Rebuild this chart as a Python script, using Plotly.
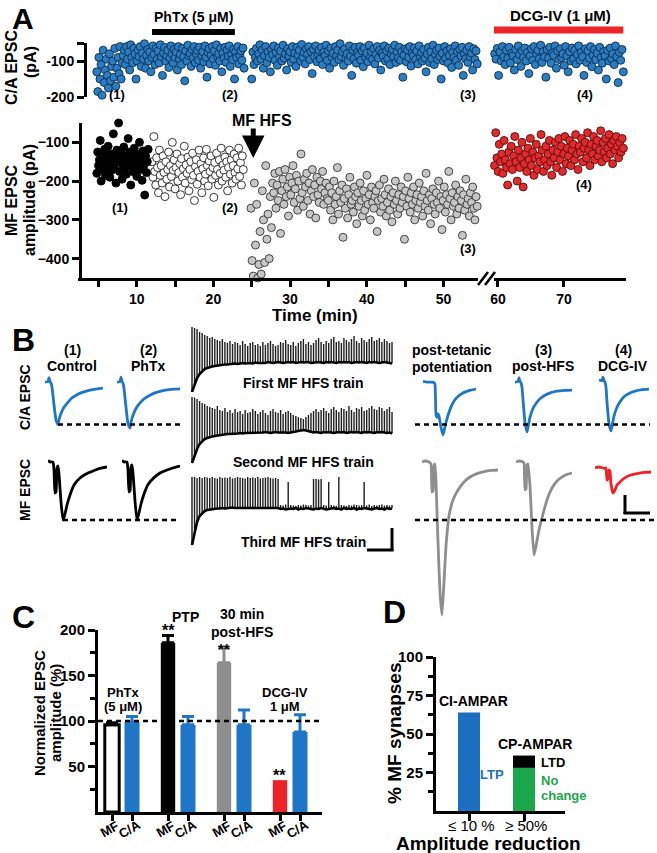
import numpy as np
import plotly.graph_objects as go

W, H = 657, 853
FONT = "Liberation Sans"

# ===================== DATA =====================
# ---- Panel A: sweep amplitudes (pA); time spans in min ----
ca_pre_span = (4.8, 24.0)
ca_pre_vals = [-130,-185,-90,-150,-110,-195,-70,-160,-125,-95,-140,-175,-80,-155,-115,-100,-145,-65,-170,-120,-90,-135,-60,-150,-105,
               -85,-70,-110,-60,-95,-75,-125,-55,-90,-105,-65,-80,-150,-100,-70,-88,-60,-115,-78,-95,-52,-120,-85,-68,-100,-75,-130,-90,
               -58,-82,-110,-65,-95,-72,-105,-55,-88,-140,-78,-62,-100,-85,-70,-118,-92,-58,-80,-105,-68,-90,-75,-125,-60,-95,-82,-110,
               -65,-88,-155,-72,-100,-56,-85,-78,-115,-68,-92,-60,-105,-80,-70,-98,-62,-120,-86,-74,-102,-58,-90,-145,-76,-66,-108,-84,
               -60,-95,-72,-112,-55,-88,-80,-100,-65,-130,-78,-92,-62,-104,-70,-86,-58,-115,-82,-96,-68,-150,-75,-90,-60,-108,-84,-72,
               -98,-64,-120]
ca_post_span = (25.0, 54.4)
ca_post_vals = [-150,-75,-110,-90,-65,-100,-80,-55,-95,-70,-120,-85,-60,-105,-75,-90,-130,-68,-82,-58,-98,-76,-112,-64,-88,-72,-100,
                -56,-92,-80,-125,-66,-86,-74,-104,-60,-94,-78,-115,-62,-84,-70,-100,-54,-90,-76,-108,-66,-82,-60,-96,-74,-135,-68,-88,
                -58,-102,-80,-70,-94,-62,-110,-76,-86,-56,-98,-72,-120,-64,-90,-78,-104,-60,-84,-70,-96,-52,-88,-74,-112,-66,-92,-80,
                -100,-58,-86,-140,-70,-94,-62,-106,-76,-84,-60,-98,-72,-116,-64,-90,-78,-102,-56,-88,-74,-95,-66,-108,-82,-60,-92,-70,
                -125,-78,-86,-58,-100,-72,-94,-64,-110,-80,-68,-88,-56,-104,-76,-92,-62,-98,-74,-145,-84,-66,-102,-70,-90,-60,-114,-78,
                -86,-64,-96,-72,-108,-58,-88,-76,-100,-68,-92,-130,-80,-62,-104,-74,-94,-56,-110,-82,-70,-96,-64,-88,-150,-78,-100,-60,
                -92,-72,-106,-84,-66,-118,-76,-90,-58,-98,-74,-112,-68,-86,-62,-140,-80,-94,-70,-104,-60,-88,-78,-125,-66,-96,-72,-108]
ca_dcg_span = (59.3, 79.0)
ca_dcg_vals = [-120,-80,-95,-65,-140,-75,-100,-60,-88,-110,-70,-92,-62,-105,-78,-85,-125,-68,-96,-58,-82,-115,-72,-90,-64,-100,-76,
               -135,-86,-66,-98,-60,-110,-80,-70,-94,-56,-104,-74,-88,-145,-68,-92,-62,-106,-78,-84,-58,-120,-72,-96,-66,-90,-80,-112,
               -60,-86,-130,-74,-100,-64,-94,-70,-108,-82,-58,-98,-76,-88,-140,-66,-104,-72,-92,-60,-116,-84,-68,-96,-78,-125,-62,-90,
               -106,-74,-86,-150,-70,-100,-64,-94,-80,-110,-58,-88,-160,-76,-98,-68,-130]

mf_ctrl_span = (4.8, 11.5)
mf_ctrl_vals = [-180,-125,-160,-145,-95,-200,-170,-135,-150,-118,-185,-140,-165,-110,-155,-190,-130,-172,-148,-78,-162,-138,-205,
                -120,-150,-50,-175,-142,-128,-195,-158,-112,-168,-135,-182,-147,-90,-160,-125,-210,-153,-137,-176,-115,-163,-145,-188,
                -130,-155,-100,-170,-140,-198,-122,-160,-236,-135,-178,-150,-118]
mf_phtx_span = (12.0, 23.9)
mf_phtx_vals = [-150,-190,-85,-175,-210,-140,-165,-230,-120,-185,-160,-205,-135,-178,-240,-150,-195,-170,-125,-215,-160,-188,-100,
                -172,-145,-220,-165,-130,-200,-178,-155,-235,-142,-190,-168,-110,-205,-158,-180,-138,-225,-170,-150,-196,-128,-185,
                -250,-162,-145,-208,-175,-120,-190,-155,-230,-168,-140,-200,-182,-118,-160,-212,-148,-175,-135,-195,-165,-242,-152,
                -185,-128,-170,-210,-145,-180,-115,-200,-158,-172,-138,-190,-150,-225,-165,-120,-182,-145,-205,-160,-130,-178,-195,
                -140,-168,-115,-188,-152,-210,-135,-170]
mf_hfs_span = (24.9, 54.4)
mf_hfs_vals = [-270,-405,-445,-205,-365,-260,-450,-415,-330,-440,-225,-300,-410,-160,-350,-285,-400,-240,-320,-205,
               -230,-180,-270,-210,-250,-175,-335,-225,-195,-260,-170,-240,-215,-290,-190,-235,-205,-160,-255,-220,-185,-275,-200,
               -245,-130,-230,-265,-195,-215,-180,-250,-205,-285,-225,-170,-240,-210,-295,-190,-235,-255,-200,-220,-175,-260,-230,
               -205,-245,-250,-215,-275,-230,-300,-200,-260,-240,-165,-285,-225,-255,-210,-345,-245,-270,-220,-295,-235,-190,-260,
               -250,-280,-215,-240,-310,-230,-265,-205,-250,-290,-225,-275,-245,-185,-260,-235,-300,-215,-255,-270,-240,-225,-330,
               -250,-210,-280,-245,-265,-195,-235,-290,-255,-220,-275,-240,-305,-230,-260,-200,-250,-285,-235,-270,-215,-255,-240,
               -350,-225,-265,-190,-245,-280,-230,-260,-215,-300,-250,-235,-270,-205,-255,-240,-290,-225,-265,-180,-250,-275,-235,
               -310,-245,-220,-260,-285,-230,-255,-200,-270,-240,-325,-250,-215,-280,-235,-260,-175,-245,-300,-230,-265,-255,-210,
               -285,-240,-270,-225,-250,-340,-235,-275,-195,-260,-245,-290,-230,-255,-215,-270,-300,-240,-265]
mf_dcg_span = (59.3, 79.0)
mf_dcg_vals = [-120,-160,-75,-140,-175,-105,-150,-130,-180,-95,-145,-165,-210,-125,-155,-110,-170,-135,-85,-150,-200,-120,-165,-140,
               -100,-215,-155,-130,-175,-115,-145,-90,-160,-125,-185,-140,-105,-170,-135,-150,-80,-120,-175,-145,-110,-160,-130,-95,
               -150,-185,-120,-140,-100,-165,-125,-90,-145,-110,-175,-130,-85,-155,-115,-135,-95,-160,-120,-105,-145,-80,-130,-170,
               -110,-125,-90,-150,-115,-100,-140,-75,-120,-160,-105,-130,-85,-145,-110,-95,-135,-120,-70,-150,-100,-125,-90,-140,-115,
               -80,-130,-105,-155,-95,-120,-85,-110,-140,-100,-125,-90,-115]

phtx_period = (12.0, 22.8)
dcg_period = (59.3, 79.0)
hfs_time = 25.2

# ---- Panel B: example EPSCs (time ms, current pA) ----
ca_ctrl_t = [0,3,4,5,6,7,9,11,13,14,16,19,22,26,32,38,45,52,58]
ca_ctrl_i = [0,2,18,2,-4,-20,-90,-150,-168,-150,-125,-100,-85,-66,-50,-40,-32,-27,-24]
ca_phtx_t = [0,3,4,5,6,7,9,11,13,14,16,19,22,26,32,38,45,52,58,63]
ca_phtx_i = [0,2,20,3,-5,-25,-100,-165,-183,-160,-132,-105,-88,-70,-54,-43,-35,-30,-28,-27]
ca_ptp_t = [0,4,8,11,12,13,14,15,16,18,20,21,23,26,29,33,38,43,48,53]
ca_ptp_i = [3,0,0,-2,-10,-130,-140,-125,-135,-180,-210,-195,-160,-120,-90,-65,-48,-38,-32,-28]
ca_post_t = [0,3,4,5,6,7,8,10,12,13,15,18,21,25,30,36,42,50,57]
ca_post_i = [0,2,18,2,-3,-20,-70,-160,-198,-180,-140,-105,-85,-66,-52,-42,-36,-33,-32]
ca_dcg_t = [0,3,4,5,6,7,8,10,12,13,15,18,21,25,30,36,43,50]
ca_dcg_i = [8,6,20,5,0,-20,-80,-165,-194,-175,-135,-100,-78,-58,-45,-36,-30,-28]

mf_ctrl_t = [0,2,5,6,7,8,9,10,11,13,15,17,19,22,26,32,38,45,52,59]
mf_ctrl_i = [8,0,0,-40,-155,-150,-30,-20,-60,-200,-290,-260,-215,-165,-115,-80,-60,-45,-32,-25]
mf_phtx_t = [0,2,5,6,7,8,9,10,11,13,15,17,19,22,26,32,38,45,52,58]
mf_phtx_i = [8,0,0,-40,-150,-145,-25,-15,-55,-195,-290,-255,-210,-160,-112,-78,-55,-40,-28,-20]
mf_ptp_t = [0,3,7,9,10,11,12,13,14,16,18,20,22,24,27,31,36,42,48,55,62,69,76]
mf_ptp_i = [0,5,0,-10,-150,-145,-20,-10,-100,-400,-650,-765,-600,-420,-270,-190,-140,-100,-75,-58,-48,-42,-40]
mf_post_t = [0,3,7,8,9,10,11,12,14,16,18,20,23,27,32,36,41,47,52,56]
mf_post_i = [0,5,0,-5,-140,-135,-15,-10,-120,-330,-465,-420,-340,-260,-175,-130,-95,-72,-60,-55]
mf_dcg_t = [0,4,8,10,11,12,13,14,15,16,18,20,22,25,29,35,42,49,56]
mf_dcg_i = [-28,-25,-30,-32,-30,-90,-85,-40,-45,-110,-155,-140,-115,-100,-82,-66,-58,-52,-50]

# HFS trains: per-stimulus peak and trough (pA), 80 stimuli over 1 s
hfs_duration_ms = (0, 1000)
train1_peak = [350,340,330,300,290,270,260,240,250,230,220,210,230,200,190,210,180,200,190,170,210,180,160,190,200,170,180,160,200,170,
               190,210,180,160,170,200,190,220,180,170,200,160,190,210,230,180,200,170,190,220,240,200,180,210,190,230,250,200,210,190,
               240,220,200,230,260,210,190,240,220,200,230,250,210,220,240,200,230,210,190,200]
train1_trough = [-300,-220,-160,-120,-90,-70,-60,-50,-45,-40,-35,-30,-30,-25,-25,-20,-20,-15,-20,-15,-10,-15,-10,-10,-15,-5,-10,-10,-5,
                 -10,0,-5,-10,-5,0,-5,-10,-5,0,-5,0,-10,-5,0,-5,-5,0,-10,-5,0,0,-5,-10,0,-5,0,-5,-10,0,-5,0,-5,0,-10,-5,0,-5,0,-5,-10,
                 0,-5,0,-5,-10,-5,0,-5,-10,-15]
train2_peak = [350,345,330,310,290,280,260,250,240,230,260,220,210,240,200,220,190,230,200,210,180,220,190,200,230,210,180,200,220,190,
               170,210,230,200,190,220,180,200,210,190,170,160,150,140,130,150,170,190,210,230,200,220,240,210,190,230,250,220,200,240,
               230,210,260,220,200,240,230,250,210,220,240,260,230,220,250,240,210,230,250,200]
train2_trough = [-310,-230,-170,-120,-90,-70,-60,-50,-45,-40,-35,-30,-30,-25,-20,-20,-20,-15,-15,-10,-15,-10,-10,-5,-10,-10,-5,-10,-5,0,
                 -5,-10,-5,0,-5,-5,0,-5,-10,-5,0,10,15,20,20,15,10,0,-5,0,-5,-10,0,-5,0,-5,-10,-5,0,-5,0,-10,-5,0,-5,0,-5,-10,0,-5,0,
                 -5,-10,0,-5,0,-5,-10,-5,-15]
train3_peak = [300,300,290,300,290,300,295,290,300,290,285,300,290,295,290,300,285,290,300,295,290,285,300,290,295,290,300,285,290,295,
               300,290,285,290,280,20,15,25,250,20,15,10,20,15,25,20,15,20,280,280,275,280,20,15,250,20,15,10,300,20,15,10,20,15,25,
               20,15,20,250,15,25,10,20,15,20,25,15,20,15,20]
train3_trough = [-380,-250,-150,-90,-60,-40,-30,-25,-20,-20,-15,-15,-10,-15,-10,-10,-5,-10,-10,-5,-10,-5,-10,-5,-5,-10,-5,-5,-10,-5,-5,
                 -10,-5,-5,-10,-20,-15,-25,-20,-15,-20,-10,-25,-15,-20,-10,-15,-20,-25,-15,-20,-10,-15,-25,-20,-15,-10,-20,-15,-25,-10,
                 -20,-15,-20,-10,-25,-15,-20,-10,-15,-20,-25,-15,-10,-20,-15,-25,-10,-20,-15]

# ---- Panel C: normalized EPSC amplitude (%) ----
c_conditions = ["PhTx", "PTP", "30 min post-HFS", "DCG-IV"]
c_pathways = ["MF", "C/A"]
c_mf_mean = [96, 186, 164, 35]
c_mf_sem = [2, 8, 16, 0]
c_ca_mean = [99, 96, 96, 88]
c_ca_sem = [6, 9, 16, 19]

# ---- Panel D: % MF synapses ----
d_categories = ["≤ 10 %", "≥ 50%"]
d_ci_ampar = 64
d_cp_nochange = 28
d_cp_ltd = 8

# ===================== HELPERS =====================
def fx(px):
    return px / W

def fy(py):
    return 1 - py / H

BLUE_M = "#2b7dc2"
BLUE = "#1f76c6"
GREEN = "#1ba64c"
GRAY = "#8e8e8e"

fig = go.Figure()
annotations = []
shapes = []

def txt(x, y, text, size=14, color="black", angle=0, xanchor="center", bold=True):
    annotations.append(dict(
        x=fx(x), y=fy(y), xref="paper", yref="paper", text=("<b>%s</b>" % text) if bold else text,
        showarrow=False, xanchor=xanchor, yanchor="middle", textangle=angle, borderpad=0,
        font=dict(family=FONT, size=size, color=color)))

def hline(x0, y0, x1, y1, width=3, color="black", dash=None):
    shapes.append(dict(type="line", xref="paper", yref="paper", x0=fx(x0), y0=fy(y0), x1=fx(x1), y1=fy(y1),
                       line=dict(color=color, width=width, dash=dash)))

def sweep_times(span, vals):
    return np.linspace(span[0], span[1], len(vals))

TICKFONT = dict(family=FONT, size=14, color="black", weight="bold")

# ===================== PANEL A =====================
def scat(span, vals, xa, ya, fill, edge):
    fig.add_trace(go.Scatter(x=sweep_times(span, vals), y=vals, xaxis=xa, yaxis=ya, mode="markers",
                             marker=dict(size=8, color=fill, line=dict(color=edge, width=0.9)),
                             cliponaxis=False, showlegend=False, hoverinfo="skip"))

scat(ca_pre_span, ca_pre_vals, "x", "y", BLUE_M, "#0d2b4d")
scat(ca_post_span, ca_post_vals, "x", "y", BLUE_M, "#0d2b4d")
scat(ca_dcg_span, ca_dcg_vals, "x2", "y", BLUE_M, "#0d2b4d")
scat(mf_phtx_span, mf_phtx_vals, "x", "y2", "white", "#222")
scat(mf_ctrl_span, mf_ctrl_vals, "x", "y2", "black", "black")
scat(mf_hfs_span, mf_hfs_vals, "x", "y2", "#c6c6c6", "#333")
scat(mf_dcg_span, mf_dcg_vals, "x2", "y2", "#e12a2e", "#5a0a0a")

axis_common = dict(showgrid=False, zeroline=False, showline=True, linecolor="black", linewidth=3,
                   ticks="outside", tickwidth=3, ticklen=7, tickcolor="black", tickfont=TICKFONT)
layout_axes = {}
layout_axes["xaxis"] = dict(axis_common, domain=[fx(78), fx(478)], range=[2.35, 54.5], anchor="y2",
                            tickvals=list(range(5, 55, 5)), ticklen=6,
                            ticktext=["" if v % 10 else str(v) for v in range(5, 55, 5)],
                            tickfont=dict(TICKFONT, size=14))
layout_axes["xaxis2"] = dict(axis_common, domain=[fx(494), fx(626)], range=[59.4, 79.4], anchor="y2", ticklen=6,
                             tickvals=[60, 70], ticktext=["60", "70"], tickfont=dict(TICKFONT, size=14))
layout_axes["yaxis"] = dict(axis_common, domain=[fy(97), fy(43)], range=[-200, -50], anchor="free", position=fx(85),
                            tickvals=[-50, -100, -200], ticktext=["", "-100", "-200"])
layout_axes["yaxis2"] = dict(axis_common, domain=[fy(278), fy(123)], range=[-450, -50], anchor="free", position=fx(80),
                             tickvals=[-100, -200, -300, -400])

# drug bars
shapes.append(dict(type="line", xref="x", yref="paper", x0=phtx_period[0], x1=phtx_period[1], y0=fy(32), y1=fy(32),
                   line=dict(color="black", width=6)))
shapes.append(dict(type="line", xref="x2", yref="paper", x0=dcg_period[0], x1=dcg_period[1], y0=fy(30), y1=fy(30),
                   line=dict(color="#ee2229", width=7)))
txt(193, 17, "PhTx (5 μM)", 14)
txt(560, 16, "DCG-IV (1 μM)", 15)
# axis break marks
hline(478, 285, 488, 272, 2.5)
hline(485, 285, 495, 272, 2.5)
# HFS arrow
annotations.append(dict(x=hfs_time, y=fy(158), xref="x", yref="paper", ax=0, ay=-31,
                        showarrow=True, arrowhead=2, arrowwidth=5, arrowsize=0.9, arrowcolor="black", text=""))
txt(262, 121, "MF HFS", 16)
txt(315, 316, "Time (min)", 17)
txt(23, 18, "A", 30)
txt(12, 68, "C/A EPSC", 16, angle=-90)
txt(30, 62, "(pA)", 16, angle=-90)
txt(11, 200, "MF EPSC", 16, angle=-90)
txt(29, 200, "amplitude (pA)", 16, angle=-90)
for (x, y, s) in [(117, 95, "(1)"), (230, 95, "(2)"), (468, 95, "(3)"), (585, 95, "(4)"),
                  (120, 207, "(1)"), (230, 207, "(2)"), (468, 248, "(3)"), (584, 185, "(4)")]:
    txt(x, y, s, 13)

# ===================== PANEL B =====================
layout_axes["yaxis3"] = dict(domain=[fy(440), fy(372)], range=[-230, 40], visible=False, anchor="x3")
layout_axes["yaxis4"] = dict(domain=[fy(620), fy(455)], range=[-790, 35], visible=False, anchor="x3")
traces_b = [
    (ca_ctrl_t, ca_ctrl_i, 45, "y3", BLUE),
    (ca_phtx_t, ca_phtx_i, 117, "y3", BLUE),
    (ca_ptp_t, ca_ptp_i, 423, "y3", BLUE),
    (ca_post_t, ca_post_i, 515, "y3", BLUE),
    (ca_dcg_t, ca_dcg_i, 599, "y3", BLUE),
    (mf_ctrl_t, mf_ctrl_i, 48, "y4", "black"),
    (mf_phtx_t, mf_phtx_i, 122, "y4", "black"),
    (mf_ptp_t, mf_ptp_i, 422, "y4", GRAY),
    (mf_post_t, mf_post_i, 516, "y4", GRAY),
    (mf_dcg_t, mf_dcg_i, 595, "y4", "#ee2229"),
]
for k, (t, i, x0, ya, col) in enumerate(traces_b):
    n = 3 + k
    layout_axes["xaxis%d" % n] = dict(domain=[fx(x0), fx(x0 + t[-1])], range=[0, t[-1]], visible=False, anchor=ya)
    fig.add_trace(go.Scatter(x=t, y=i, xaxis="x%d" % n, yaxis=ya, mode="lines",
                             line=dict(color=col, width=2.8, shape="spline", smoothing=0.4),
                             cliponaxis=False, showlegend=False, hoverinfo="skip"))

# dashed reference lines at control amplitude
for (x0, x1) in [(58, 183), (415, 650)]:
    shapes.append(dict(type="line", xref="paper", yref="y3", x0=fx(x0), x1=fx(x1), y0=min(ca_ctrl_i), y1=min(ca_ctrl_i),
                       line=dict(color="black", width=2.5, dash="5px,4px")))
for (x0, x1) in [(63, 178), (415, 657)]:
    shapes.append(dict(type="line", xref="paper", yref="y4", x0=fx(x0), x1=fx(x1), y0=min(mf_ctrl_i), y1=min(mf_ctrl_i),
                       line=dict(color="black", width=2.5, dash="5px,4px")))

# HFS trains
layout_axes["xaxis13"] = dict(domain=[fx(190), fx(395)], range=[-10, 1015], visible=False, anchor="y5")
train_axes = [("y5", [fy(397), fy(322)], [-350, 400], train1_peak, train1_trough),
              ("y6", [fy(467), fy(392)], [-350, 400], train2_peak, train2_trough),
              ("y7", [fy(547), fy(472)], [-400, 350], train3_peak, train3_trough)]
for ya, dom, rng, pk, tr in train_axes:
    layout_axes["yaxis" + ya[1:]] = dict(domain=dom, range=rng, visible=False, anchor="x13")
    ts = np.linspace(hfs_duration_ms[0], hfs_duration_ms[1], len(pk))
    xs, ys = [], []
    for tt, lo, hi in zip(ts, tr, pk):
        xs += [tt, tt, None]
        ys += [lo, hi, None]
    fig.add_trace(go.Scatter(x=xs, y=ys, xaxis="x13", yaxis=ya, mode="lines", line=dict(color="#1e1e1e", width=1.4),
                             showlegend=False, hoverinfo="skip", cliponaxis=False))
    fig.add_trace(go.Scatter(x=ts, y=tr, xaxis="x13", yaxis=ya, mode="lines", line=dict(color="black", width=2.6),
                             showlegend=False, hoverinfo="skip", cliponaxis=False))

txt(303, 383, "First MF HFS train", 14)
txt(303, 462, "Second MF HFS train", 14)
txt(303, 542, "Third MF HFS train", 14)
# scale bars
hline(392, 528, 392, 551, 3)
hline(367, 550, 393.5, 550, 3)
hline(625, 495, 625, 514, 3)
hline(623.5, 513, 650, 513, 3)

txt(23, 340, "B", 32)
txt(25, 397, "C/A EPSC", 14, angle=-90)
txt(25, 490, "MF EPSC", 14, angle=-90)
for (x, l1, l2) in [(72, "(1)", "Control"), (148, "(2)", "PhTx"), (543, "(3)", "post-HFS"), (623, "(4)", "DCG-IV")]:
    txt(x, 350, l1, 14)
    txt(x, 366, l2, 14)
txt(452, 350, "post-tetanic", 14)
txt(452, 367, "potentiation", 14)

# ===================== PANEL C =====================
c_mf_x = [0.7, 3.5, 6.3, 9.1]
c_ca_x = [1.7, 4.5, 7.3, 10.1]
C_X0, C_X1, C_R = 98, 322, 11.2
mf_fill = ["white", "black", GRAY, "#ee2229"]
mf_edge = ["black", "black", GRAY, "#ee2229"]
for k in range(4):
    fig.add_trace(go.Bar(x=[c_mf_x[k]], y=[c_mf_mean[k]], width=0.72, xaxis="x14", yaxis="y8",
                         marker=dict(color=mf_fill[k], line=dict(color=mf_edge[k], width=3 if k == 0 else 0)),
                         error_y=dict(type="data", symmetric=False, array=[c_mf_sem[k]], arrayminus=[0],
                                      color=mf_edge[k], thickness=3, width=6, visible=c_mf_sem[k] > 0),
                         showlegend=False, hoverinfo="skip"))
fig.add_trace(go.Bar(x=c_ca_x, y=c_ca_mean, width=0.75, xaxis="x14", yaxis="y8",
                     marker=dict(color=BLUE, line=dict(width=0)),
                     error_y=dict(type="data", symmetric=False, array=c_ca_sem, arrayminus=[0] * 4,
                                  color=BLUE, thickness=3, width=6),
                     showlegend=False, hoverinfo="skip"))
tv = []
for k in range(4):
    tv += [c_mf_x[k], c_ca_x[k]]
    for xv, lab in zip([c_mf_x[k], c_ca_x[k]], c_pathways):
        px = C_X0 + xv / C_R * (C_X1 - C_X0)
        txt(px - 3, 829, lab, 13, angle=-30)
layout_axes["xaxis14"] = dict(axis_common, domain=[fx(C_X0), fx(C_X1)], range=[0, C_R], anchor="y8",
                              tickvals=tv, ticktext=[""] * len(tv), ticklen=6)
layout_axes["yaxis8"] = dict(axis_common, domain=[fy(812), fy(630)], range=[0, 200], anchor="x14",
                             tickvals=[50, 100, 150, 200], tickfont=dict(TICKFONT, size=15),
                             minor=dict(tickvals=[25, 75, 125, 175], ticks="outside", ticklen=5, tickwidth=2.5,
                                        tickcolor="black"))
shapes.append(dict(type="line", xref="paper", yref="y8", x0=fx(98), x1=fx(322), y0=100, y1=100,
                   line=dict(color="black", width=2.5, dash="5px,4px")))
txt(23, 617, "C", 32)
txt(39, 713, "Normalized EPSC", 15, angle=-90)
txt(55, 713, "amplitude (%)", 15, angle=-90)
txt(123, 692, "PhTx", 13)
txt(123, 706, "(5 μM)", 13)
txt(185, 617, "PTP", 14)
txt(168, 630, "**", 16)
txt(242, 623, "30 min<br>post-HFS", 14)
txt(224, 648, "**", 15)
txt(285, 692, "DCG-IV", 13)
txt(285, 706, "1 μM", 13)
txt(279, 775, "**", 16)

# ===================== PANEL D =====================
d_x = [0.6, 1.6]
D_X0, D_X1, D_R = 436, 565, 2.345
fig.add_trace(go.Bar(x=[d_x[0]], y=[d_ci_ampar], width=0.4, xaxis="x15", yaxis="y9",
                     marker=dict(color="#1c6fc0", line=dict(width=0)), showlegend=False, hoverinfo="skip"))
fig.add_trace(go.Bar(x=[d_x[1]], y=[d_cp_nochange], width=0.4, xaxis="x15", yaxis="y9",
                     marker=dict(color=GREEN, line=dict(width=0)), showlegend=False, hoverinfo="skip"))
fig.add_trace(go.Bar(x=[d_x[1]], y=[d_cp_ltd], base=[d_cp_nochange], width=0.4, xaxis="x15", yaxis="y9",
                     marker=dict(color="black", line=dict(width=0)), showlegend=False, hoverinfo="skip"))
layout_axes["xaxis15"] = dict(axis_common, domain=[fx(D_X0), fx(D_X1)], range=[0, D_R], anchor="y9",
                              tickvals=d_x, ticktext=["", ""])
for xv, lab in zip(d_x, d_categories):
    px = D_X0 + xv / D_R * (D_X1 - D_X0)
    txt(px + 2, 825, lab, 15, bold=False)
layout_axes["yaxis9"] = dict(axis_common, domain=[fy(811), fy(657)], range=[0, 100], anchor="x15",
                             tickvals=[25, 50, 75, 100], tickfont=dict(TICKFONT, size=15),
                             minor=dict(tickvals=[12.5, 37.5, 62.5, 87.5], ticks="outside", ticklen=5, tickwidth=2.5,
                                        tickcolor="black"))
txt(394, 612, "D", 32)
txt(394, 733, "% MF synapses", 19, angle=-90)
txt(488, 843, "Amplitude reduction", 19)
txt(473, 701, "CI-AMPAR", 14)
txt(535, 744, "CP-AMPAR", 14)
txt(540, 762, "LTD", 13, xanchor="left")
txt(492, 774, "LTP", 13, color="#1c6fc0")
txt(540, 780, "No", 13, color=GREEN, xanchor="left")
txt(540, 795, "change", 13, color=GREEN, xanchor="left")

fig.update_layout(
    width=W, height=H, margin=dict(l=0, r=0, t=0, b=0), template="none",
    paper_bgcolor="white", plot_bgcolor="white", showlegend=False, barmode="overlay",
    annotations=annotations, shapes=shapes, **layout_axes)

fig.write_html("out.html", config={"displayModeBar": False},
               post_script="document.body.style.margin='0';document.body.style.overflow='hidden';")
